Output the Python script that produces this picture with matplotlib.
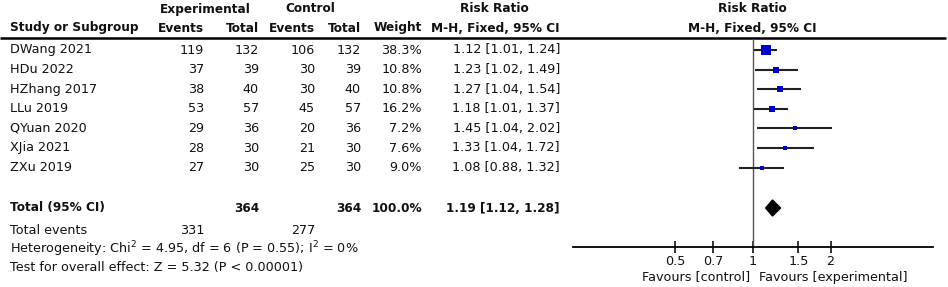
import numpy as np
import matplotlib.pyplot as plt
from matplotlib.patches import Polygon

studies = ["DWang 2021", "HDu 2022", "HZhang 2017", "LLu 2019",
           "QYuan 2020", "XJia 2021", "ZXu 2019"]
exp_events = [119, 37, 38, 53, 29, 28, 27]
exp_total = [132, 39, 40, 57, 36, 30, 30]
ctl_events = [106, 30, 30, 45, 20, 21, 25]
ctl_total = [132, 39, 40, 57, 36, 30, 30]
weight = [38.3, 10.8, 10.8, 16.2, 7.2, 7.6, 9.0]
rr = [1.12, 1.23, 1.27, 1.18, 1.45, 1.33, 1.08]
rr_lo = [1.01, 1.02, 1.04, 1.01, 1.04, 1.04, 0.88]
rr_hi = [1.24, 1.49, 1.54, 1.37, 2.02, 1.72, 1.32]

total_rr, total_lo, total_hi = 1.19, 1.12, 1.28
total_exp_n, total_ctl_n = 364, 364
total_exp_ev, total_ctl_ev = 331, 277
ticks = [0.5, 0.7, 1, 1.5, 2]

W, H = 948, 287
fig = plt.figure(figsize=(W / 100, H / 100), dpi=100)
plt.rcParams['font.family'] = ['DejaVu Sans']
fs = 9.2      # regular text
fb = 8.7      # bold text (DejaVu bold runs wide)
col = "#111111"

# text layer in pixel coordinates
tx = fig.add_axes([0, 0, 1, 1])
tx.set_xlim(0, W)
tx.set_ylim(H, 0)
tx.axis("off")

def txt(x, y, s, ha="left", bold=False):
    tx.text(x, y, s, ha=ha, va="center", color=col,
            fontsize=fb if bold else fs, fontweight="bold" if bold else "normal")

row_y0, row_dy = 50, 19.6
rows_y = [row_y0 + i * row_dy for i in range(len(studies))]
total_y = 208
lx = 10

# headers
txt(205, 9, "Experimental", "center", True)
txt(310, 9, "Control", "center", True)
txt(494, 9, "Risk Ratio", "center", True)
txt(752, 9, "Risk Ratio", "center", True)
hy = 28
txt(lx, hy, "Study or Subgroup", bold=True)
for xr, lab in [(204, "Events"), (259, "Total"), (315, "Events"), (361, "Total"), (422, "Weight")]:
    txt(xr, hy, lab, "right", True)
txt(560, hy, "M-H, Fixed, 95% CI", "right", True)
txt(752, hy, "M-H, Fixed, 95% CI", "center", True)
tx.plot([0, 946], [38, 38], color="black", lw=1.8, solid_capstyle="butt")

for i, y in enumerate(rows_y):
    txt(lx, y, studies[i])
    txt(204, y, str(exp_events[i]), "right")
    txt(259, y, str(exp_total[i]), "right")
    txt(315, y, str(ctl_events[i]), "right")
    txt(361, y, str(ctl_total[i]), "right")
    txt(422, y, f"{weight[i]:.1f}%", "right")
    txt(560, y, f"{rr[i]:.2f} [{rr_lo[i]:.2f}, {rr_hi[i]:.2f}]", "right")

txt(lx, total_y, "Total (95% CI)", bold=True)
txt(259, total_y, str(total_exp_n), "right", True)
txt(361, total_y, str(total_ctl_n), "right", True)
txt(422, total_y, "100.0%", "right", True)
txt(560, total_y, f"{total_rr:.2f} [{total_lo:.2f}, {total_hi:.2f}]", "right", True)

txt(lx, 230, "Total events")
txt(204, 230, str(total_exp_ev), "right")
txt(315, 230, str(total_ctl_ev), "right")
txt(lx, 249, r"Heterogeneity: Chi$^2$ = 4.95, df = 6 (P = 0.55); I$^2$ = 0%")
txt(lx, 268, "Test for overall effect: Z = 5.32 (P < 0.00001)")

# forest plot
x0, x1, ytop, ybot = 573, 933, 39, 247
ax = fig.add_axes([x0 / W, (H - ybot) / H, (x1 - x0) / W, (ybot - ytop) / H])
ax.set_xscale("log")
ax.set_xlim(0.2, 5)
ax.set_ylim(ybot, ytop)
ax.patch.set_visible(False)
for s in ["top", "left", "right"]:
    ax.spines[s].set_visible(False)
ax.spines["bottom"].set_linewidth(1.3)
ax.set_yticks([])
ax.set_xticks(ticks)
ax.set_xticklabels([f"{t:g}" for t in ticks])
ax.xaxis.set_minor_locator(plt.NullLocator())
ax.tick_params(axis="x", direction="inout", length=9, width=1.2, labelsize=fs, pad=1, colors=col)
ax.axvline(1, color="#555555", lw=1.0)

k = 1.55
for i, y in enumerate(rows_y):
    ax.plot([rr_lo[i], rr_hi[i]], [y, y], color="#222222", lw=1.5, solid_capstyle="butt")
    side = k * np.sqrt(weight[i])
    ax.plot([rr[i]], [y], marker="s", ms=side * 0.72, color="#0000cc", mec="#0000cc", mew=0)

dh = 8
ax.add_patch(Polygon([[total_lo, total_y], [total_rr, total_y - dh],
                      [total_hi, total_y], [total_rr, total_y + dh]],
                     closed=True, facecolor="black", edgecolor="black"))

txt(750, 277, "Favours [control]", "right")
txt(759, 277, "Favours [experimental]")

fig.savefig("out.png", dpi=100)
